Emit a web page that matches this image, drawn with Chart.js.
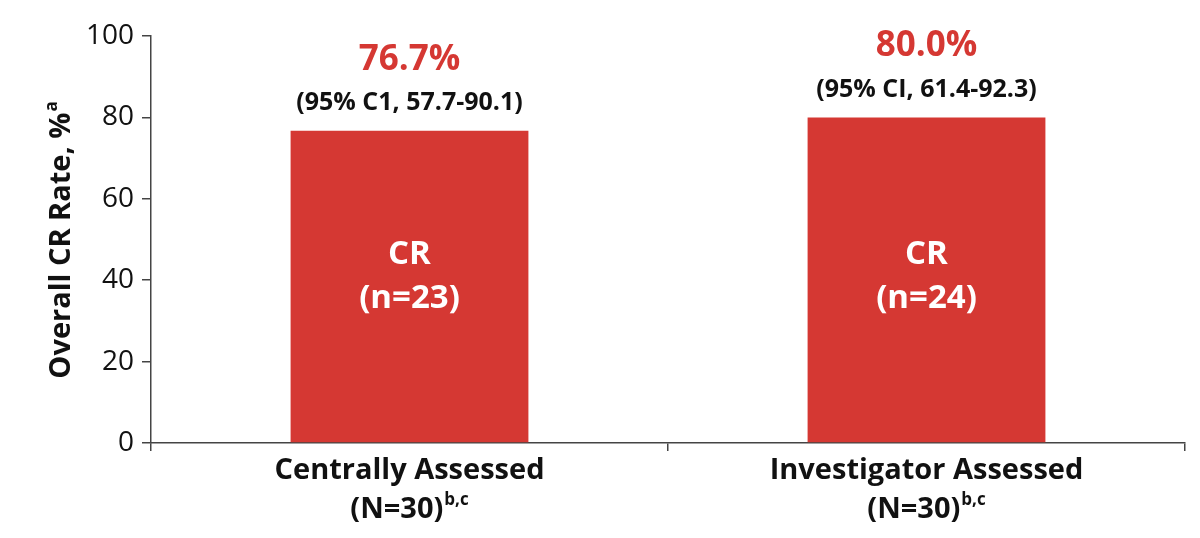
<!DOCTYPE html>
<html>
<head>
<meta charset="utf-8">
<script src="https://cdn.jsdelivr.net/npm/chart.js@4/dist/chart.umd.min.js"></script>
<style>
  html, body { margin: 0; padding: 0; background: #fff; }
  #wrap { width: 1200px; height: 538px; }
</style>
</head>
<body>
<div id="wrap"><canvas id="cr_chart"></canvas></div>
<script>
const categories = ['Centrally Assessed', 'Investigator Assessed'];
const sampleLabels = ['(N=30)', '(N=30)'];
const rates = [76.7, 80.0];
const rateLabels = ['76.7%', '80.0%'];
const ciLabels = ['(95% C1, 57.7-90.1)', '(95% CI, 61.4-92.3)'];
const countLabels = ['(n=23)', '(n=24)'];

const red = '#d53833';
const axisColor = '#444';
const font = '"Open Sans", sans-serif';

// draws all the annotation text, including superscripts
const labelPlugin = {
    id: 'labels',
    afterDraw(chart) {
        const ctx = chart.ctx;
        const x = chart.scales.x;
        const y = chart.scales.y;
        const bars = chart.getDatasetMeta(0).data;
        ctx.save();
        ctx.textAlign = 'center';
        ctx.textBaseline = 'middle';

        bars.forEach((bar, i) => {
            ctx.fillStyle = red;
            ctx.font = 'bold 35px ' + font;
            ctx.fillText(rateLabels[i], bar.x, bar.y - 71);
            ctx.fillStyle = '#111';
            ctx.font = 'bold 25px ' + font;
            ctx.fillText(ciLabels[i], bar.x, bar.y - 28);

            ctx.fillStyle = '#fff';
            ctx.font = 'bold 33px ' + font;
            ctx.fillText('CR', bar.x, y.getPixelForValue(46.3));
            ctx.fillText(countLabels[i], bar.x, y.getPixelForValue(35.5));
        });

        // x category labels
        categories.forEach((c, i) => {
            const cx = x.getPixelForValue(i);
            ctx.fillStyle = '#111';
            ctx.textAlign = 'center';
            ctx.font = 'bold 29px ' + font;
            ctx.fillText(c, cx, 471);
            const w = ctx.measureText(sampleLabels[i]).width;
            ctx.font = 'bold 17px ' + font;
            const sw = ctx.measureText('b,c').width;
            const left = cx - (w + sw + 1) / 2;
            ctx.textAlign = 'left';
            ctx.font = 'bold 29px ' + font;
            ctx.fillText(sampleLabels[i], left, 510);
            ctx.font = 'bold 17px ' + font;
            ctx.fillText('b,c', left + w + 1, 500);
        });

        // y axis title
        ctx.translate(62, 240);
        ctx.rotate(-Math.PI / 2);
        ctx.fillStyle = '#111';
        ctx.textAlign = 'left';
        ctx.font = 'bold 29px ' + font;
        const t = 'Overall CR Rate, %';
        const tw = ctx.measureText(t).width;
        ctx.font = 'bold 17px ' + font;
        const aw = ctx.measureText('a').width;
        const start = -(tw + aw + 1) / 2;
        ctx.font = 'bold 29px ' + font;
        ctx.fillText(t, start, 0);
        ctx.font = 'bold 17px ' + font;
        ctx.fillText('a', start + tw + 1, -10);
        ctx.restore();
    }
};

new Chart(document.getElementById('cr_chart'), {
    type: 'bar',
    data: {
        labels: categories,
        datasets: [{
            data: rates,
            backgroundColor: red,
            categoryPercentage: 1,
            barPercentage: 0.46
        }]
    },
    options: {
        responsive: true,
        maintainAspectRatio: false,
        animation: false,
        layout: { padding: { top: 36, right: 15, left: 0, bottom: 0 } },
        plugins: {
            legend: { display: false },
            tooltip: { enabled: false }
        },
        scales: {
            x: {
                grid: {
                    offset: true,
                    drawOnChartArea: false,
                    tickLength: 8,
                    color: axisColor,
                    lineWidth: 1.5
                },
                border: { color: axisColor, width: 1.5 },
                ticks: { display: false },
                afterFit: s => { s.height = 95; }
            },
            y: {
                min: 0,
                max: 100,
                ticks: {
                    stepSize: 20,
                    color: '#111',
                    padding: 8,
                    font: { family: font, size: 28 }
                },
                grid: {
                    drawOnChartArea: false,
                    tickLength: 9,
                    color: axisColor,
                    lineWidth: 1.5
                },
                border: { color: axisColor, width: 1.5 },
                afterFit: s => { s.width = 151; }
            }
        }
    },
    plugins: [labelPlugin]
});
</script>
</body>
</html>
